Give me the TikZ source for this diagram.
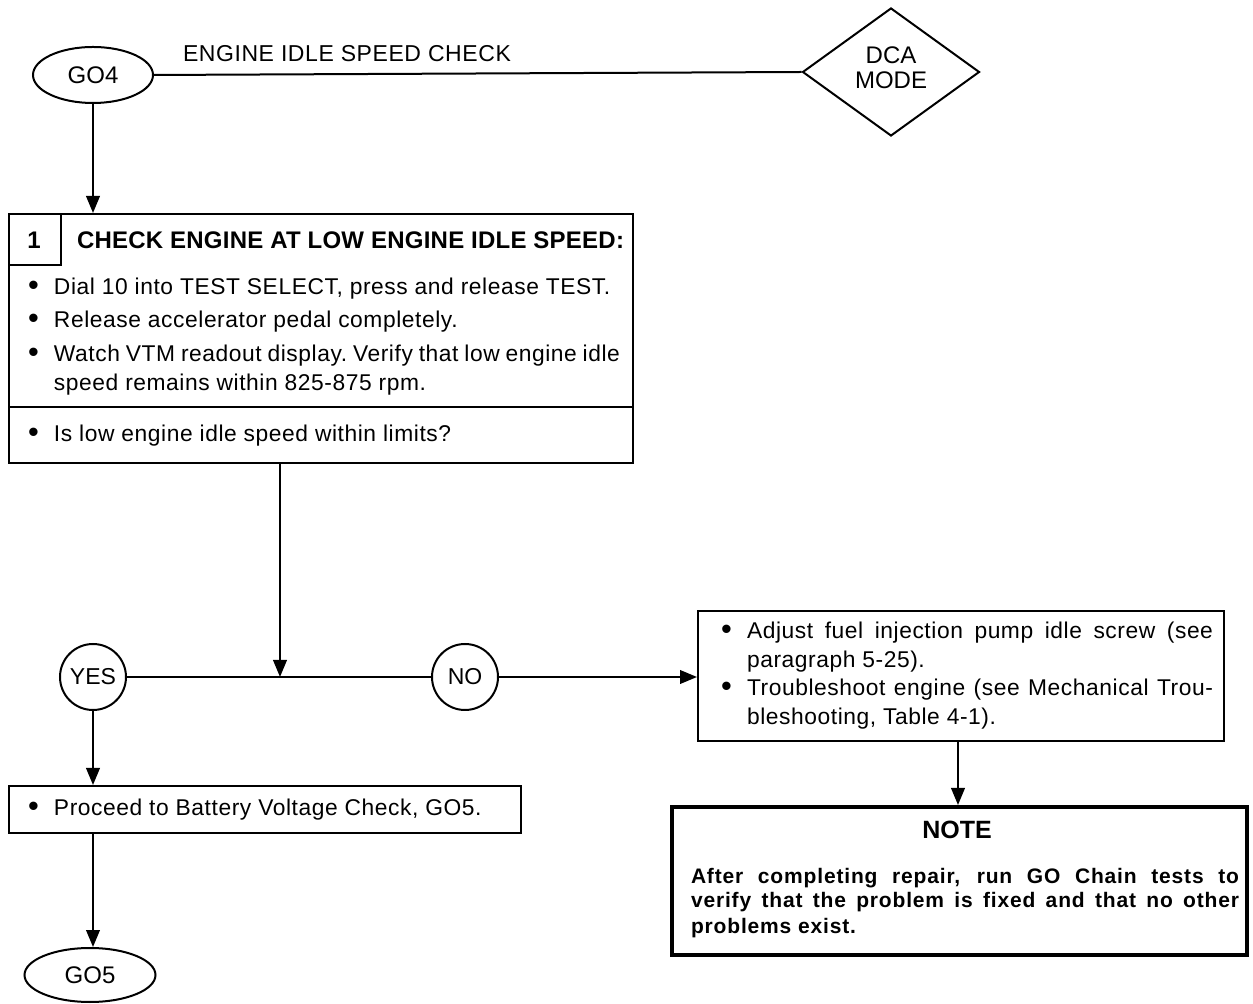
\documentclass[tikz,border=0pt]{standalone}
\usepackage{fontspec}
\setmainfont{Liberation Sans}
\newfontfamily\bodyfont[LetterSpace=2.5]{Liberation Sans}
\newfontfamily\headfont[LetterSpace=1]{Liberation Sans}
\newfontfamily\notefont[LetterSpace=4]{Liberation Sans}
\usetikzlibrary{arrows.meta,shapes.geometric,calc}
\newcommand{\itm}[2]{\makebox[13pt][l]{\raisebox{-0.3pt}{\scalebox{1.35}{•}}}\parbox[t]{#1}{\frenchspacing#2}}
\begin{document}
\begin{tikzpicture}[x=0.5pt,y=-0.5pt,line width=1pt,
  arr/.style={-{Triangle[length=8.5pt,width=6.8pt]}},
  frame/.style={draw,rectangle,inner sep=0pt,anchor=north west},
  term/.style={draw,ellipse,inner sep=0pt,font=\fontsize{12}{14}\selectfont},
  ans/.style={draw,circle,inner sep=0pt,minimum size=33pt,font=\fontsize{11.5}{12}\selectfont},
  txt/.style={inner sep=0pt,anchor=base west,font=\bodyfont\fontsize{11.4}{14.5}\selectfont},
  bold/.style={inner sep=0pt,font=\headfont\fontsize{12}{14}\bfseries\selectfont}]
\useasboundingbox (0,0) rectangle (1253,1004);

% top row
\node[term,minimum width=60pt,minimum height=28pt] (go4) at (93,75) {GO4};
\node[draw,diamond,inner sep=0pt,minimum width=88.5pt,minimum height=64pt] (dca) at (891,72) {};
\node[align=center,inner sep=0pt,font=\fontsize{12}{12.5}\selectfont] (dcat) at (891,68) {DCA\\MODE};
\node[txt,font=\bodyfont\fontsize{11.5}{14}\selectfont] (title) at (182,62) {ENGINE IDLE SPEED CHECK};
\draw (go4.east) -- (dca.west);

% step 1 box
\node[frame,minimum width=312pt,minimum height=124.5pt] (b1) at (8,213) {};
\node[frame,minimum width=26pt,minimum height=25.5pt] (num) at (8,213) {};
\node[bold] (numt) at (34,240) {1};
\node[bold,anchor=base west] (head) at (76,249) {CHECK ENGINE AT LOW ENGINE IDLE SPEED:};
\draw (b1.west |- 0,407) -- (b1.east |- 0,407);
\node[txt] (i1) at (27,295) {\itm{283pt}{Dial 10 into TEST SELECT, press and release TEST.}};
\node[txt] (i2) at (27,328) {\itm{283pt}{Release accelerator pedal completely.}};
\node[txt] (i3) at (27,362) {\itm{283pt}{Watch VTM readout display. Verify that low engine idle\linebreak speed remains within 825-875 rpm.}};
\node[txt] (i4) at (27,442) {\itm{283pt}{Is low engine idle speed within limits?}};
\draw[arr] (go4.south) -- (go4.south |- b1.north);

% decision row
\node[ans] (yes) at (93,677) {YES};
\node[ans] (no) at (465,677) {NO};
\coordinate (j) at (280,677);
\draw (yes.east) -- (no.west);
\draw[arr] (j |- b1.south) -- (j);

% NO branch
\node[frame,minimum width=263pt,minimum height=65pt] (adj) at (697,610) {};
\node[txt] (a1) at (720,639) {\itm{233pt}{Adjust fuel injection pump idle screw (see\linebreak paragraph 5-25).}};
\node[txt] (a2) at (720,696) {\itm{233pt}{Troubleshoot engine (see Mechanical Trou-\linebreak bleshooting, Table 4-1).}};
\draw[arr] (no.east) -- (adj.west |- no.east);

\node[frame,line width=2.2pt,minimum width=287.5pt,minimum height=74pt] (note) at (670,805) {};
\node[bold,font=\fontsize{12.5}{14}\bfseries\selectfont,anchor=base] (notet) at (957,839) {NOTE};
\node[inner sep=0pt,anchor=base west,font=\notefont\fontsize{10.5}{12.5}\bfseries\selectfont] (nt) at (690,883)
  {\parbox[t]{274pt}{After completing repair, run GO Chain tests to\linebreak verify that the problem is fixed and that no other\linebreak problems exist.}};
\draw[arr] (adj.south -| 958,0) -- (note.north -| 958,0);

% YES branch
\node[frame,minimum width=256pt,minimum height=23.5pt] (proc) at (8,785) {};
\node[txt] (pt) at (27,816) {\itm{240pt}{Proceed to Battery Voltage Check, GO5.}};
\draw[arr] (yes.south) -- (yes.south |- proc.north);
\node[term,minimum width=65.5pt,minimum height=27pt] (go5) at (90,975) {GO5};
\draw[arr] (yes.south |- proc.south) -- (yes.south |- go5.north);
\end{tikzpicture}
\end{document}
